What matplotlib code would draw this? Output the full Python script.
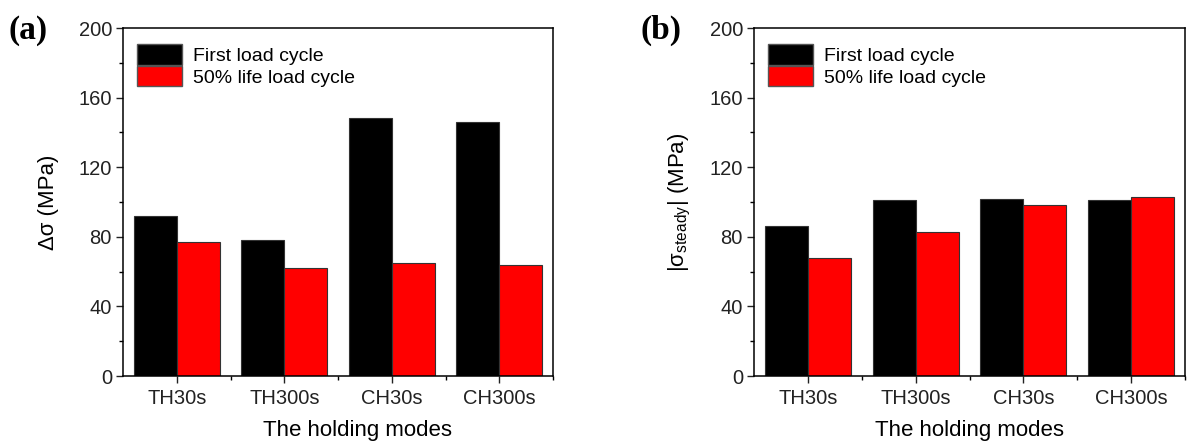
import matplotlib
matplotlib.use("Agg")
import matplotlib.pyplot as plt
import numpy as np
from matplotlib.patches import Patch
from matplotlib.ticker import MultipleLocator, FixedLocator

# holding modes on the x axis
modes = ["TH30s", "TH300s", "CH30s", "CH300s"]
series_names = ["First load cycle", "50% life load cycle"]

# (a) stress range
delta_first = [92, 78, 148, 146]
delta_half = [77, 62, 65, 64]

# (b) steady stress magnitude
steady_first = [86, 101, 102, 101]
steady_half = [68, 83, 98, 103]

plt.rcParams["font.family"] = ["Liberation Sans", "DejaVu Sans"]
plt.rcParams["mathtext.fontset"] = "custom"
plt.rcParams["mathtext.rm"] = "Liberation Sans"
plt.rcParams["mathtext.it"] = "Liberation Sans"
plt.rcParams["mathtext.default"] = "regular"

fig = plt.figure(figsize=(11.87, 4.48), dpi=100)
ax_a = fig.add_axes([123 / 1187, 1 - 376 / 448, 430 / 1187, 348 / 448])
ax_b = fig.add_axes([754 / 1187, 1 - 376 / 448, 431 / 1187, 348 / 448])

bar_w = 0.4
colors = ["#000000", "#ff0000"]


def draw_panel(ax, first, half, ylabel, ypad, xlab_x, tag, tag_x):
    x = np.arange(len(modes))
    ax.bar(x - bar_w / 2, first, width=bar_w, color=colors[0],
           edgecolor="#333333", linewidth=0.8)
    ax.bar(x + bar_w / 2, half, width=bar_w, color=colors[1],
           edgecolor="#333333", linewidth=0.8)

    ax.set_xlim(-0.5, 3.5)
    ax.set_ylim(0, 200)
    ax.set_xticks(x)
    ax.set_xticklabels(modes)
    ax.xaxis.set_minor_locator(FixedLocator([0.5, 1.5, 2.5, 3.5]))
    ax.yaxis.set_major_locator(MultipleLocator(40))
    ax.yaxis.set_minor_locator(MultipleLocator(20))
    ax.tick_params(axis="both", which="major", direction="out", length=5,
                   width=1, labelsize=14.5, colors="#222222")
    ax.tick_params(axis="both", which="minor", direction="out", length=3,
                   width=1)
    ax.tick_params(axis="x", which="both", top=False, pad=4)
    ax.tick_params(axis="y", which="both", right=False, pad=3)

    for s in ax.spines.values():
        s.set_linewidth(1.1)

    ax.set_xlabel("The holding modes", fontsize=16, labelpad=9)
    ax.xaxis.label.set_x(xlab_x)
    ax.set_ylabel(ylabel, fontsize=16, labelpad=ypad)

    handles = [Patch(facecolor=colors[0], edgecolor="#555555", label=series_names[0]),
               Patch(facecolor=colors[1], edgecolor="#555555", label=series_names[1])]
    ax.legend(handles=handles, loc="upper left", frameon=False, fontsize=14,
              handlelength=2.3, handleheight=1.25, labelspacing=0.02,
              handletextpad=0.55, borderaxespad=0,
              bbox_to_anchor=(0.015, 0.975))

    fig.text(tag_x, 1 - 30 / 448, tag, fontsize=24, fontweight="bold",
             family="Liberation Serif", va="center", ha="left")


draw_panel(ax_a, delta_first, delta_half, "Δσ (MPa)", 14, 0.545,
           "(a)", 9 / 1187)
draw_panel(ax_b, steady_first, steady_half,
           r"$|\mathrm{σ}_{\mathrm{steady}}|$ (MPa)", 12, 0.5,
           "(b)", 641 / 1187)

fig.savefig("out.png", dpi=100, facecolor="white")
